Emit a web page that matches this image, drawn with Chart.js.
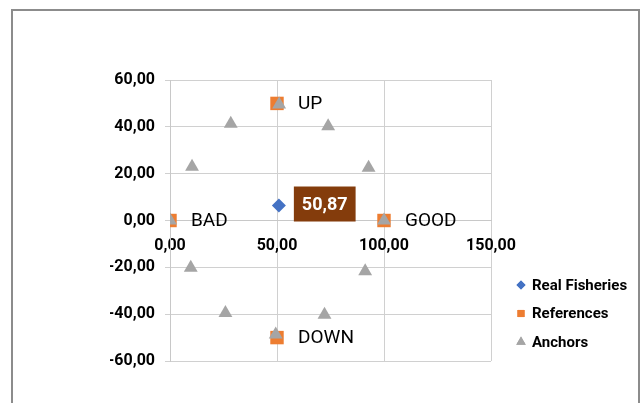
<!DOCTYPE html>
<html>
<head>
<meta charset="utf-8">
<script src="https://cdn.jsdelivr.net/npm/chart.js@4.4.1/dist/chart.umd.min.js"></script>
<style>
  html, body { margin: 0; padding: 0; background: #ffffff; }
  #wrap { position: relative; width: 640px; height: 403px; overflow: hidden; }
  #frame { position: absolute; left: 11px; top: 9px; width: 625px; height: 420px;
           border-left: 2px solid #8c8c8c; border-top: 2px solid #8c8c8c; border-right: 2px solid #8c8c8c; }
  canvas { position: absolute; left: 0; top: 0; }
</style>
</head>
<body>
<div id="wrap">
  <div id="frame"></div>
  <canvas id="c" width="640" height="403"></canvas>
</div>
<script>
// ---- Data ----
const seriesNames = ['Real Fisheries', 'References', 'Anchors'];
const realX = [50.87];
const realY = [6.4];
const referenceLabels = ['BAD', 'GOOD', 'UP', 'DOWN'];
const referenceX = [0, 100, 50, 50];
const referenceY = [0, 0, 50, -50];
const anchorX = [0, 10.3, 28.4, 51, 73.9, 92.8, 100, 91.2, 72.2, 49.4, 25.9, 9.7];
const anchorY = [0, 23.0, 41.3, 49.5, 40.3, 22.5, 0, -21.7, -40.2, -48.7, -39.5, -20.2];
const xTicks = [0, 50, 100, 150];
const yTicks = [-60, -40, -20, 0, 20, 40, 60];

const FONT = "Roboto, 'Liberation Sans', sans-serif";
const fmt = v => Number(v).toFixed(2).replace('.', ',');
const toPts = (xs, ys) => xs.map((x, i) => ({ x: x, y: ys[i] }));

const labelPlugin = {
  id: 'pointLabels',
  afterDatasetsDraw(chart) {
    const ctx = chart.ctx;
    ctx.save();
    // Reference labels
    const refMeta = chart.getDatasetMeta(1);
    ctx.font = "19px " + FONT;
    ctx.fillStyle = '#000000';
    ctx.textAlign = 'left';
    ctx.textBaseline = 'middle';
    refMeta.data.forEach((el, i) => {
      ctx.fillText(referenceLabels[i], el.x + 21, el.y + 1);
    });
    // Real fisheries value box
    const realMeta = chart.getDatasetMeta(0);
    realMeta.data.forEach((el, i) => {
      const txt = fmt(realX[i]);
      ctx.font = "bold 18px " + FONT;
      const w = ctx.measureText(txt).width + 16;
      const h = 35;
      const bx = el.x + 15, by = el.y - 19;
      ctx.fillStyle = '#843C0C';
      ctx.fillRect(bx, by, w, h);
      ctx.fillStyle = '#ffffff';
      ctx.textAlign = 'center';
      ctx.fillText(txt, bx + w / 2, by + h / 2 + 1);
    });
    ctx.restore();
  },
  afterDraw(chart) {
    // legend
    const ctx = chart.ctx;
    ctx.save();
    const x0 = 521, y0 = 285, gap = 28.5;
    const radii = [4.5, 5, 5.5];
    chart.data.datasets.forEach((ds, i) => {
      const y = y0 + i * gap;
      ctx.fillStyle = ds.backgroundColor;
      ctx.strokeStyle = ds.backgroundColor;
      ctx.lineWidth = 0;
      Chart.helpers.drawPoint(ctx, { pointStyle: ds.pointStyle, radius: radii[i], rotation: 0, borderWidth: 0 }, x0, y);
      ctx.fill();
      ctx.font = "bold 15px " + FONT;
      ctx.fillStyle = '#000000';
      ctx.textAlign = 'left';
      ctx.textBaseline = 'middle';
      ctx.fillText(ds.label, x0 + 11, y + 1);
    });
    ctx.restore();
  }
};

new Chart(document.getElementById('c'), {
  type: 'scatter',
  data: {
    datasets: [
      { label: seriesNames[0], data: toPts(realX, realY), pointStyle: 'rectRot', pointRadius: 7,
        backgroundColor: '#4472C4', borderColor: '#4472C4', borderWidth: 0, order: 0 },
      { label: seriesNames[1], data: toPts(referenceX, referenceY), pointStyle: 'rect', pointRadius: 9.5,
        backgroundColor: '#ED7D31', borderColor: '#ED7D31', borderWidth: 0, order: 2 },
      { label: seriesNames[2], data: toPts(anchorX, anchorY), pointStyle: 'triangle', pointRadius: 8,
        backgroundColor: '#A5A5A5', borderColor: '#A5A5A5', borderWidth: 0, order: 1 }
    ]
  },
  options: {
    responsive: false,
    animation: false,
    devicePixelRatio: 1,
    layout: { padding: { left: 110, top: 80, right: 149, bottom: 42 } },
    plugins: { legend: { display: false }, tooltip: { enabled: false } },
    scales: {
      x: {
        type: 'linear',
        position: { y: 0 },
        min: 0, max: 150,
        afterBuildTicks: s => { s.ticks = xTicks.map(v => ({ value: v })); },
        ticks: { callback: v => fmt(v), color: '#000000', padding: 16, maxRotation: 0,
                 font: { family: FONT, size: 16, weight: 'bold' } },
        grid: { color: '#d0d0d0', lineWidth: 1, drawTicks: false },
        border: { color: '#c8c8c8', width: 1 }
      },
      y: {
        type: 'linear',
        position: 'left',
        min: -60, max: 60,
        afterBuildTicks: s => { s.ticks = yTicks.map(v => ({ value: v })); },
        afterFit: s => { s.width = 60; },
        ticks: { callback: v => fmt(v), color: '#000000', padding: 10,
                 font: { family: FONT, size: 16, weight: 'bold' } },
        grid: { color: '#d0d0d0', lineWidth: 1, tickLength: 5 },
        border: { color: '#c8c8c8', width: 1 }
      }
    }
  },
  plugins: [labelPlugin]
});
</script>
</body>
</html>
